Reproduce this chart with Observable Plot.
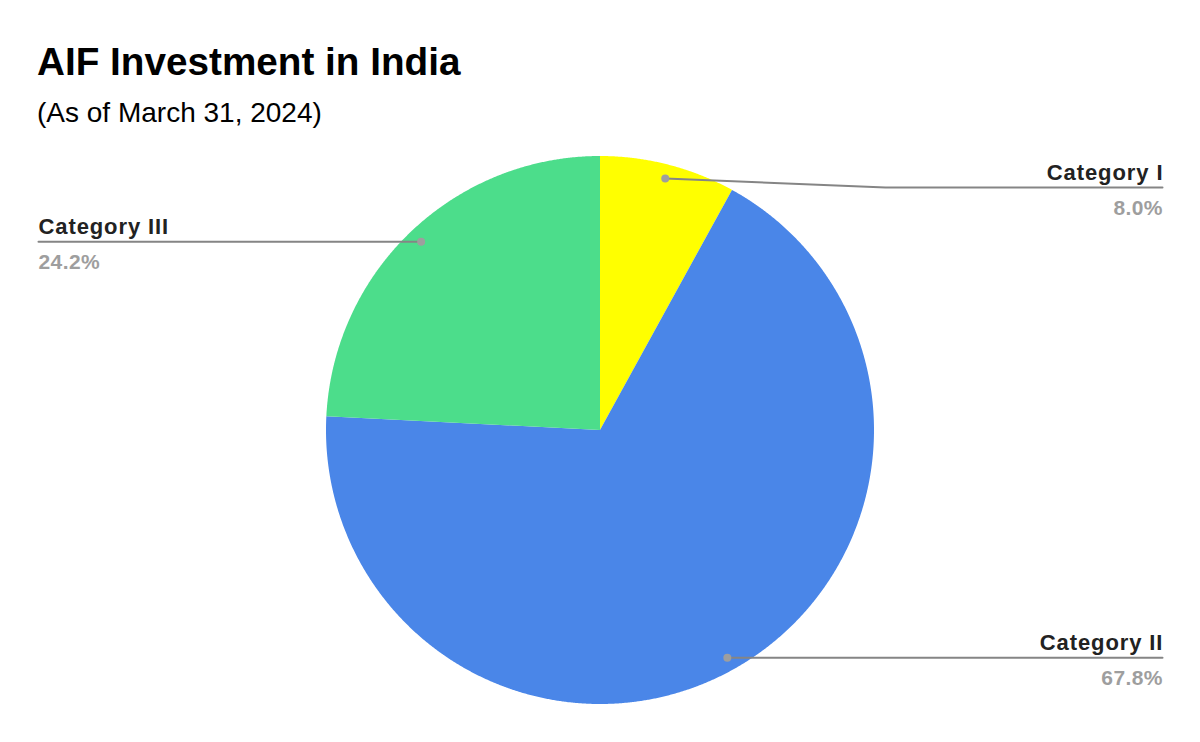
<!DOCTYPE html>
<html>
<head>
<meta charset="utf-8">
<script src="https://cdn.jsdelivr.net/npm/d3@7"></script>
<script src="https://cdn.jsdelivr.net/npm/@observablehq/plot@0.6"></script>
<style>
  html, body { margin: 0; padding: 0; background: #fff; }
  #wrap { position: relative; width: 1200px; height: 742px; overflow: hidden; font-family: "Liberation Sans", Arial, sans-serif; }
  #title { position: absolute; left: 37px; top: 43px; font-size: 38.7px; line-height: 1; font-weight: bold; color: #000; white-space: nowrap; }
  #subtitle { position: absolute; left: 37px; top: 99px; font-size: 28px; line-height: 1; color: #000; white-space: nowrap; }
  #chart { position: absolute; left: 0; top: 140px; }
</style>
</head>
<body>
<div id="wrap">
  <div id="title">AIF Investment in India</div>
  <div id="subtitle">(As of March 31, 2024)</div>
  <div id="chart"></div>
</div>
<script>
// ---- data ----
const categories = ["Category I", "Category II", "Category III"];
const shares = [8.0, 67.8, 24.2];
const colors = ["#ffff00", "#4a86e8", "#4cdd8b"];

// ---- layout (pixels, page coordinates) ----
const W = 1200, TOP = 140, H = 742 - TOP;
const CX = 600, CY = 430, R = 274;
const labelLayout = {
  "Category I":   {side: "right", lineY: 187, elbowX: 885},
  "Category II":  {side: "right", lineY: null, elbowX: null},
  "Category III": {side: "left",  lineY: null, elbowX: null}
};
const RIGHT_X = 1162, LEFT_X = 38;
const LS_NAME = 0.9, LS_PCT = 0.4;

const ux = px => (px - CX) / R;
const uy = py => (CY - py) / R;

const table = categories.map((c, i) => ({cat: c, value: shares[i]}));
const arcs = d3.pie().sort(null).value(d => d.value)(table);

// wedge outline points
const arcPts = [];
for (const a of arcs) {
  const n = Math.max(2, Math.ceil((a.endAngle - a.startAngle) / 0.004));
  for (let k = 0; k <= n; k++) {
    const t = a.startAngle + (a.endAngle - a.startAngle) * k / n;
    arcPts.push({cat: a.data.cat, x: Math.sin(t), y: Math.cos(t)});
  }
}

// label anchors
const dots = [], leaders = [], labels = [];
for (const a of arcs) {
  const mid = (a.startAngle + a.endAngle) / 2;
  const dx = 0.95 * Math.sin(mid), dy = 0.95 * Math.cos(mid);
  dots.push({cat: a.data.cat, x: dx, y: dy});
  const L = labelLayout[a.data.cat];
  const dotPy = CY - dy * R;
  const lineY = L.lineY ?? dotPy;
  const endX = L.side === "right" ? RIGHT_X : LEFT_X;
  const pts = [[dx, dy]];
  if (L.elbowX != null) pts.push([ux(L.elbowX), uy(lineY)]);
  else if (Math.abs(lineY - dotPy) > 0.5) pts.push([dx, uy(lineY)]);
  pts.push([ux(endX), uy(lineY)]);
  for (const p of pts) leaders.push({cat: a.data.cat, x: p[0], y: p[1]});
  labels.push({
    cat: a.data.cat,
    pct: a.data.value.toFixed(1) + "%",
    x: ux(endX),
    yName: uy(lineY - 7.5),
    yPct: uy(lineY + 27),
    anchor: L.side === "right" ? "end" : "start"
  });
}

const right = labels.filter(d => d.anchor === "end");
const left = labels.filter(d => d.anchor === "start");

const chart = Plot.plot({
  width: W,
  height: H,
  margin: 0,
  style: {fontFamily: "'Liberation Sans', Arial, sans-serif", background: "transparent"},
  x: {domain: [-1, 1], range: [CX - R, CX + R], axis: null},
  y: {domain: [-1, 1], range: [CY - TOP + R, CY - TOP - R], axis: null},
  color: {domain: categories, range: colors},
  marks: [
    Plot.area(arcPts, {x1: "x", y1: "y", x2: () => 0, y2: () => 0, z: "cat", fill: "cat", curve: "linear"}),
    Plot.line(leaders, {x: "x", y: "y", z: "cat", stroke: "#858585", strokeWidth: 2, curve: "linear"}),
    Plot.dot(dots, {x: "x", y: "y", r: 4, fill: "#9e9e9e", stroke: null}),
    Plot.text(right, {x: "x", y: "yName", text: "cat", textAnchor: "end", lineAnchor: "bottom", dx: LS_NAME, fontSize: 22, fontWeight: "bold", fill: "#222"}),
    Plot.text(left, {x: "x", y: "yName", text: "cat", textAnchor: "start", lineAnchor: "bottom", fontSize: 22, fontWeight: "bold", fill: "#222"}),
    Plot.text(right, {x: "x", y: "yPct", text: "pct", textAnchor: "end", lineAnchor: "bottom", dx: LS_PCT, fontSize: 21, fontWeight: "bold", fill: "#9e9e9e"}),
    Plot.text(left, {x: "x", y: "yPct", text: "pct", textAnchor: "start", lineAnchor: "bottom", fontSize: 21, fontWeight: "bold", fill: "#9e9e9e"})
  ]
});
d3.select(chart).selectAll("text")
  .each(function() {
    const t = this.textContent;
    if (categories.includes(t)) this.style.letterSpacing = LS_NAME + "px";
    else if (t.endsWith("%")) this.style.letterSpacing = LS_PCT + "px";
  });
document.getElementById("chart").appendChild(chart);
</script>
</body>
</html>
